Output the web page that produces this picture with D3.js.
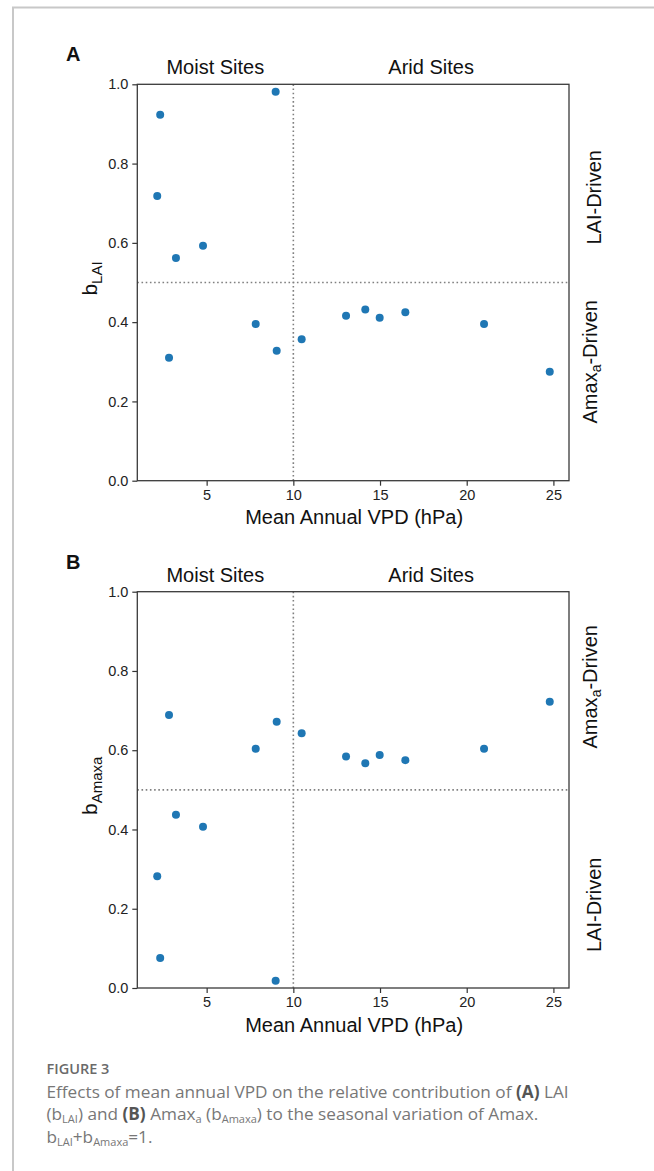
<!DOCTYPE html>
<html><head><meta charset="utf-8">
<script src="https://cdn.jsdelivr.net/npm/d3@7/dist/d3.min.js"></script>
<style>body{margin:0;background:#fff;} svg{display:block;}</style>
</head><body>
<script>
// ---- data ----
const vpd    = [2.15, 2.32, 2.83, 3.23, 4.79, 7.83, 8.98, 9.04, 10.48, 13.04, 14.15, 14.98, 16.46, 21.0, 24.79];
const bLAI   = [0.718, 0.923, 0.310, 0.562, 0.593, 0.395, 0.981, 0.328, 0.357, 0.416, 0.432, 0.411, 0.425, 0.395, 0.275];
const bAmaxa = [0.282, 0.076, 0.689, 0.437, 0.407, 0.604, 0.018, 0.672, 0.643, 0.584, 0.567, 0.588, 0.575, 0.604, 0.722];
const xTicks = [5, 10, 15, 20, 25];
const yTicks = [0, 0.2, 0.4, 0.6, 0.8, 1.0];
const xDomain = [1.0, 25.9];
const yDomain = [0, 1];
const vpdThreshold = 10;
const bThreshold = 0.5;
const regionLabels = [{text: "Moist Sites", from: 1.0, to: 10}, {text: "Arid Sites", from: 10, to: 25.9}];

const W = 654, H = 1171;
const svg = d3.select("body").append("svg").attr("width", W).attr("height", H);
const FONT = "'Liberation Sans', Arial, Helvetica, sans-serif";

// frame
svg.append("path").attr("d", `M13,${H} V7.5 H${W}`).attr("fill", "none")
  .attr("stroke", "#c8c8c8").attr("stroke-width", 2);

function addSegs(textSel, segs, subSize, shift) {
  segs.forEach(s => {
    const t = textSel.append("tspan").text(s.t);
    if (s.sub) { t.attr("font-size", subSize).attr("dy", shift); }
    else if (s.after) { t.attr("dy", -shift); }
    if (s.bold) t.attr("font-weight", "bold").attr("fill", s.boldColor || null);
  });
}

const panels = [
  {label: "A", top: 84.3, bottom: 480.7, values: bLAI, ylab: [{t: "b"}, {t: "LAI", sub: true}],
   right: [{at: 0.715, segs: [{t: "LAI-Driven"}], base: 601},
           {at: 0.30, segs: [{t: "Amax"}, {t: "a", sub: true}, {t: "-Driven", after: true}], base: 597}]},
  {label: "B", top: 591.7, bottom: 988, values: bAmaxa, ylab: [{t: "b"}, {t: "Amaxa", sub: true}],
   right: [{at: 0.76, segs: [{t: "Amax"}, {t: "a", sub: true}, {t: "-Driven", after: true}], base: 597},
           {at: 0.21, segs: [{t: "LAI-Driven"}], base: 601}]}
];

const left = 137.3, right = 569;
const x = d3.scaleLinear().domain(xDomain).range([left, right]);

panels.forEach(p => {
  const y = d3.scaleLinear().domain(yDomain).range([p.bottom, p.top]);
  const g = svg.append("g");

  // reference lines
  g.append("line").attr("x1", x(vpdThreshold)).attr("x2", x(vpdThreshold))
    .attr("y1", y(yDomain[0])).attr("y2", y(yDomain[1]))
    .attr("stroke", "#808080").attr("stroke-width", 1.6).attr("stroke-dasharray", "1.6,2.6");
  g.append("line").attr("x1", x(xDomain[0])).attr("x2", x(xDomain[1]))
    .attr("y1", y(bThreshold)).attr("y2", y(bThreshold))
    .attr("stroke", "#808080").attr("stroke-width", 1.6).attr("stroke-dasharray", "1.6,2.6");

  // points
  g.selectAll("circle").data(vpd.map((v, i) => [v, p.values[i]])).join("circle")
    .attr("cx", d => x(d[0])).attr("cy", d => y(d[1])).attr("r", 4).attr("fill", "#1f77b4");

  // axes
  const ax = g.append("g").attr("transform", `translate(0,${p.bottom})`)
    .call(d3.axisBottom(x).tickValues(xTicks).tickFormat(d3.format("d")).tickSize(5).tickPadding(4));
  const ay = g.append("g").attr("transform", `translate(${left},0)`)
    .call(d3.axisLeft(y).tickValues(yTicks).tickFormat(d3.format(".1f")).tickSize(5).tickPadding(4));
  [ax, ay].forEach(a => {
    a.select(".domain").remove();
    a.selectAll("line").attr("stroke", "#333").attr("stroke-width", 1.2);
    a.selectAll("text").attr("font-family", FONT).attr("font-size", 14.5).attr("fill", "#222");
  });

  // box
  g.append("rect").attr("x", left).attr("y", p.top).attr("width", right - left).attr("height", p.bottom - p.top)
    .attr("fill", "none").attr("stroke", "#3a3a3a").attr("stroke-width", 1.3);

  // panel letter
  g.append("text").attr("x", 66).attr("y", p.top - 23).text(p.label)
    .attr("font-family", FONT).attr("font-weight", "bold").attr("font-size", 20).attr("fill", "#111");

  // region labels
  regionLabels.forEach(r => {
    g.append("text").attr("x", x((r.from + r.to) / 2)).attr("y", p.top - 10).attr("text-anchor", "middle")
      .attr("font-family", FONT).attr("font-size", 20).attr("fill", "#111").text(r.text);
  });

  // x label
  g.append("text").attr("x", (left + right) / 2 + 1).attr("y", p.bottom + 43.5).attr("text-anchor", "middle")
    .attr("font-family", FONT).attr("font-size", 20).attr("fill", "#111").text("Mean Annual VPD (hPa)");

  // y label
  const yl = g.append("text").attr("transform", `translate(97,${y(0.5) - 4}) rotate(-90)`)
    .attr("text-anchor", "middle").attr("font-family", FONT).attr("font-size", 21).attr("fill", "#111");
  addSegs(yl, p.ylab, 15, 5);

  // right labels
  p.right.forEach(r => {
    const t = g.append("text").attr("transform", `translate(${r.base},${y(r.at)}) rotate(-90)`)
      .attr("text-anchor", "middle").attr("font-family", FONT).attr("font-size", 20).attr("fill", "#111");
    addSegs(t, r.segs, 14, 4);
  });
});

// caption
const CAP = "'Open Sans', 'Noto Sans', sans-serif";
svg.append("text").attr("x", 46.5).attr("y", 1074).attr("font-family", CAP).attr("font-size", 14.5)
  .attr("font-weight", 600).attr("fill", "#6a6a6a").text("FIGURE 3");
const capLines = [
  [{t: "Effects of mean annual VPD on the relative contribution of "}, {t: "(A)", bold: true}, {t: " LAI"}],
  [{t: "(b"}, {t: "LAI", sub: true}, {t: ") and ", after: true}, {t: "(B)", bold: true}, {t: " Amax"}, {t: "a", sub: true},
   {t: " (b", after: true}, {t: "Amaxa", sub: true}, {t: ") to the seasonal variation of Amax.", after: true}],
  [{t: "b"}, {t: "LAI", sub: true}, {t: "+b", after: true}, {t: "Amaxa", sub: true}, {t: "=1.", after: true}]
];
capLines.forEach((segs, i) => {
  const t = svg.append("text").attr("x", 46.5).attr("y", 1097.5 + i * 22.5).attr("font-family", CAP)
    .attr("font-size", 17.2).attr("fill", "#777");
  addSegs(t, segs.map(s => s.bold ? Object.assign({boldColor: "#555"}, s) : s), 11, 3);
});
</script>
</body></html>
